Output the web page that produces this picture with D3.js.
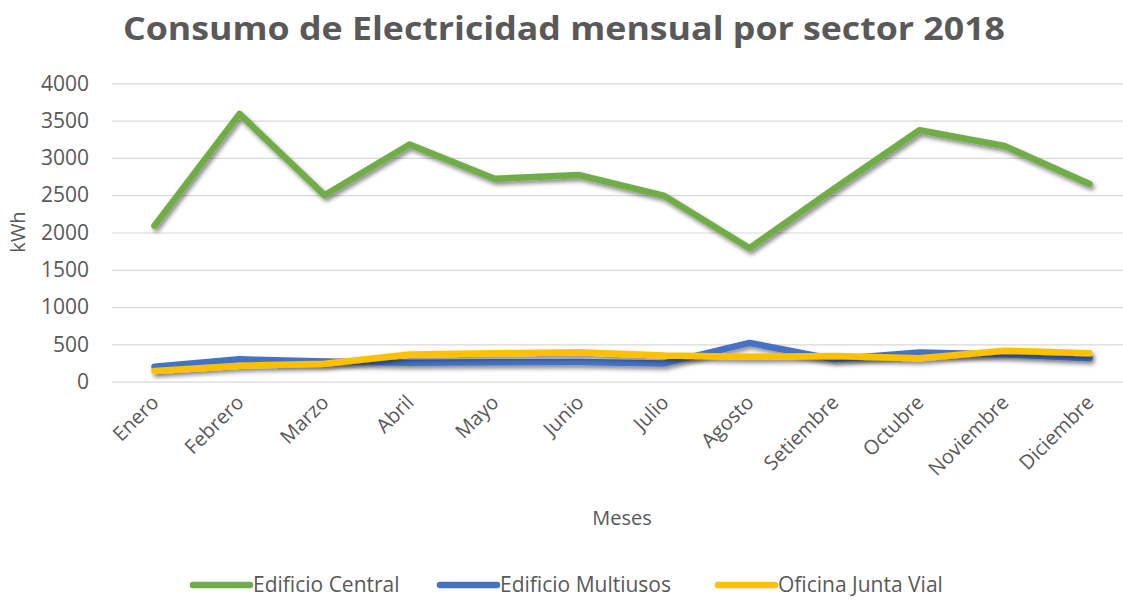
<!DOCTYPE html>
<html>
<head>
<meta charset="utf-8">
<script src="https://cdn.jsdelivr.net/npm/d3@7"></script>
<style>
  body { margin: 0; background: #fff; }
  svg { display: block; font-family: "Open Sans", sans-serif; }
</style>
</head>
<body>
<svg width="1123" height="600"></svg>
<script>
// Data
const months = ["Enero", "Febrero", "Marzo", "Abril", "Mayo", "Junio", "Julio", "Agosto", "Setiembre", "Octubre", "Noviembre", "Diciembre"]
const central = [2090, 3590, 2500, 3180, 2720, 2770, 2490, 1790, 2590, 3370, 3160, 2650]
const multiusos = [200, 300, 270, 255, 260, 265, 245, 520, 300, 390, 365, 315]
const juntaVial = [145, 215, 240, 365, 380, 395, 350, 335, 345, 315, 415, 380]
const yTicks = [0, 500, 1000, 1500, 2000, 2500, 3000, 3500, 4000]
const seriesNames = ["Edificio Central", "Edificio Multiusos", "Oficina Junta Vial"]
const seriesColors = ["#70ad47", "#4472c4", "#ffc000"]

const series = [central, multiusos, juntaVial]

// Layout
var plotLeft = 112, plotRight = 1132, plotTop = 83.3, plotBottom = 381.7
var textColor = "#595959"

var svg = d3.select("svg")

var defs = svg.append("defs")
var shadow = defs.append("filter")
    .attr("id", "shadow")
    .attr("x", "-10%").attr("y", "-50%")
    .attr("width", "120%").attr("height", "200%")
shadow.append("feDropShadow")
    .attr("dx", 2).attr("dy", 3)
    .attr("stdDeviation", 2)
    .attr("flood-color", "#000")
    .attr("flood-opacity", 0.45)

var x = d3.scalePoint()
    .domain(months)
    .range([plotLeft, plotRight])
    .padding(0.5)

var y = d3.scaleLinear()
    .domain([0, 4000])
    .range([plotBottom, plotTop])

// Title
svg.append("text")
    .attr("x", 564)
    .attr("y", 40)
    .attr("text-anchor", "middle")
    .attr("font-size", 33)
    .attr("font-weight", "bold")
    .attr("fill", textColor)
    .attr("textLength", 882)
    .attr("lengthAdjust", "spacingAndGlyphs")
    .text("Consumo de Electricidad mensual por sector 2018")

// Y axis + gridlines
var yAxis = svg.append("g")
    .attr("transform", "translate(" + plotLeft + ",0)")
    .call(d3.axisLeft(y)
        .tickValues(yTicks)
        .tickFormat(d3.format("d"))
        .tickSize(-(plotRight - plotLeft))
        .tickPadding(23))
yAxis.select(".domain").remove()
yAxis.selectAll("line")
    .attr("stroke", "#d9d9d9")
    .attr("stroke-width", 1.2)
yAxis.selectAll("text")
    .attr("font-size", 21)
    .attr("font-family", "Open Sans")
    .attr("fill", textColor)

// X axis labels
var xAxis = svg.append("g")
    .attr("transform", "translate(0," + plotBottom + ")")
    .call(d3.axisBottom(x).tickSize(0).tickPadding(0))
xAxis.select(".domain").remove()
xAxis.selectAll("text")
    .attr("font-size", 20)
    .attr("font-family", "Open Sans")
    .attr("fill", textColor)
    .attr("text-anchor", "end")
    .attr("dy", 0)
    .attr("y", 0)
    .attr("transform", "translate(5,22) rotate(-45)")

// Axis titles
svg.append("text")
    .attr("x", (plotLeft + plotRight) / 2)
    .attr("y", 525)
    .attr("text-anchor", "middle")
    .attr("font-size", 20)
    .attr("fill", textColor)
    .text("Meses")

svg.append("text")
    .attr("transform", "translate(25,232) rotate(-90)")
    .attr("text-anchor", "middle")
    .attr("font-size", 20)
    .attr("fill", textColor)
    .text("kWh")

// Lines
var line = d3.line()
    .x((d, i) => x(months[i]))
    .y((d) => y(d))

svg.append("g")
    .selectAll("path")
    .data(series)
    .enter()
    .append("path")
    .attr("d", (d) => line(d))
    .attr("fill", "none")
    .attr("stroke", (d, i) => seriesColors[i])
    .attr("stroke-width", 6.5)
    .attr("stroke-linecap", "round")
    .attr("stroke-linejoin", "round")
    .attr("filter", "url(#shadow)")

// Legend
var legendX = [193, 440, 718]
var legend = svg.append("g")
    .selectAll("g")
    .data(seriesNames)
    .enter()
    .append("g")
    .attr("transform", (d, i) => "translate(" + legendX[i] + ",585)")

legend.append("line")
    .attr("x1", 0).attr("x2", 57)
    .attr("y1", 0).attr("y2", 0)
    .attr("stroke", (d, i) => seriesColors[i])
    .attr("stroke-width", 6.5)
    .attr("stroke-linecap", "round")

legend.append("text")
    .attr("x", 60)
    .attr("y", 7)
    .attr("font-size", 21)
    .attr("fill", textColor)
    .text((d) => d)
</script>
</body>
</html>
